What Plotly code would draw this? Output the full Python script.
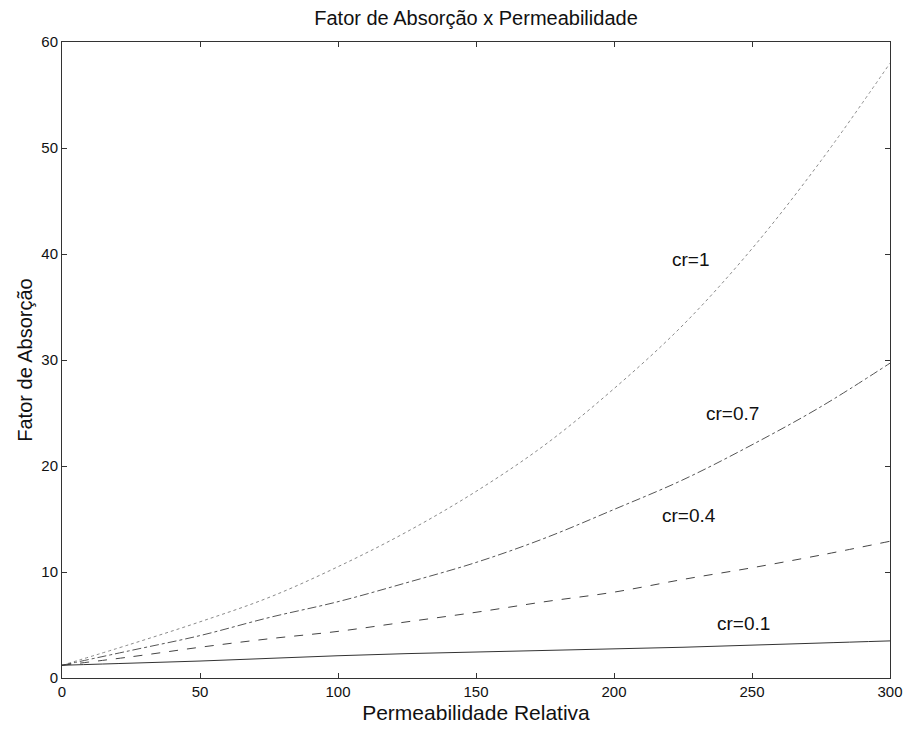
import plotly.graph_objects as go

permeabilidade = [0, 25, 50, 75, 100, 125, 150, 175, 200, 225, 250, 275, 300]
cr_1 = [1.2, 3.2, 5.3, 7.6, 10.5, 13.8, 17.6, 22.0, 27.3, 33.3, 40.5, 48.8, 58.0]
cr_07 = [1.2, 2.6, 4.0, 5.7, 7.2, 9.0, 10.9, 13.2, 15.9, 18.7, 22.0, 25.6, 29.7]
cr_04 = [1.2, 2.0, 2.9, 3.7, 4.4, 5.3, 6.2, 7.2, 8.1, 9.3, 10.4, 11.6, 12.9]
cr_01 = [1.2, 1.4, 1.6, 1.85, 2.1, 2.3, 2.45, 2.6, 2.75, 2.9, 3.1, 3.3, 3.5]

series = [
    ("cr=1", cr_1, "dot", "#8a8a8a"),
    ("cr=0.7", cr_07, "dashdot", "#555555"),
    ("cr=0.4", cr_04, "dash", "#444444"),
    ("cr=0.1", cr_01, "solid", "#333333"),
]
labels = [("cr=1", 228, 39.5), ("cr=0.7", 243, 25.0), ("cr=0.4", 227, 15.3), ("cr=0.1", 247, 5.1)]

FONT = "Liberation Sans, Arial"

fig = go.Figure()
for name, ys, dash, color in series:
    fig.add_trace(go.Scatter(x=permeabilidade, y=ys, mode="lines", name=name,
                             line=dict(color=color, width=1, dash=dash, shape="spline")))

for text, x, y in labels:
    fig.add_annotation(x=x, y=y, text=text, showarrow=False,
                       font=dict(family=FONT, size=19, color="#111"))

axis_common = dict(showgrid=False, zeroline=False, showline=True, mirror="ticks",
                   linecolor="#333", linewidth=1, ticks="inside", ticklen=5,
                   tickcolor="#333", tickfont=dict(family=FONT, size=15, color="#111"))

fig.update_layout(
    width=915, height=733,
    paper_bgcolor="white", plot_bgcolor="white",
    margin=dict(l=62, r=18, t=42, b=52),
    showlegend=False,
    title=dict(text="Fator de Absorção x Permeabilidade", x=0.5, xref="paper", xanchor="center",
               y=0.975, yanchor="middle",
               font=dict(family=FONT, size=20, color="#111")),
    xaxis=dict(range=[0, 300], tickvals=[0, 50, 100, 150, 200, 250, 300],
               title=dict(text="Permeabilidade Relativa", standoff=6,
                          font=dict(family=FONT, size=21, color="#111")),
               **axis_common),
    yaxis=dict(range=[0, 60], tickvals=[0, 10, 20, 30, 40, 50, 60],
               title=dict(text="Fator de Absorção", standoff=3,
                          font=dict(family=FONT, size=20, color="#111")),
               **axis_common),
)

fig.write_html("out.html")
